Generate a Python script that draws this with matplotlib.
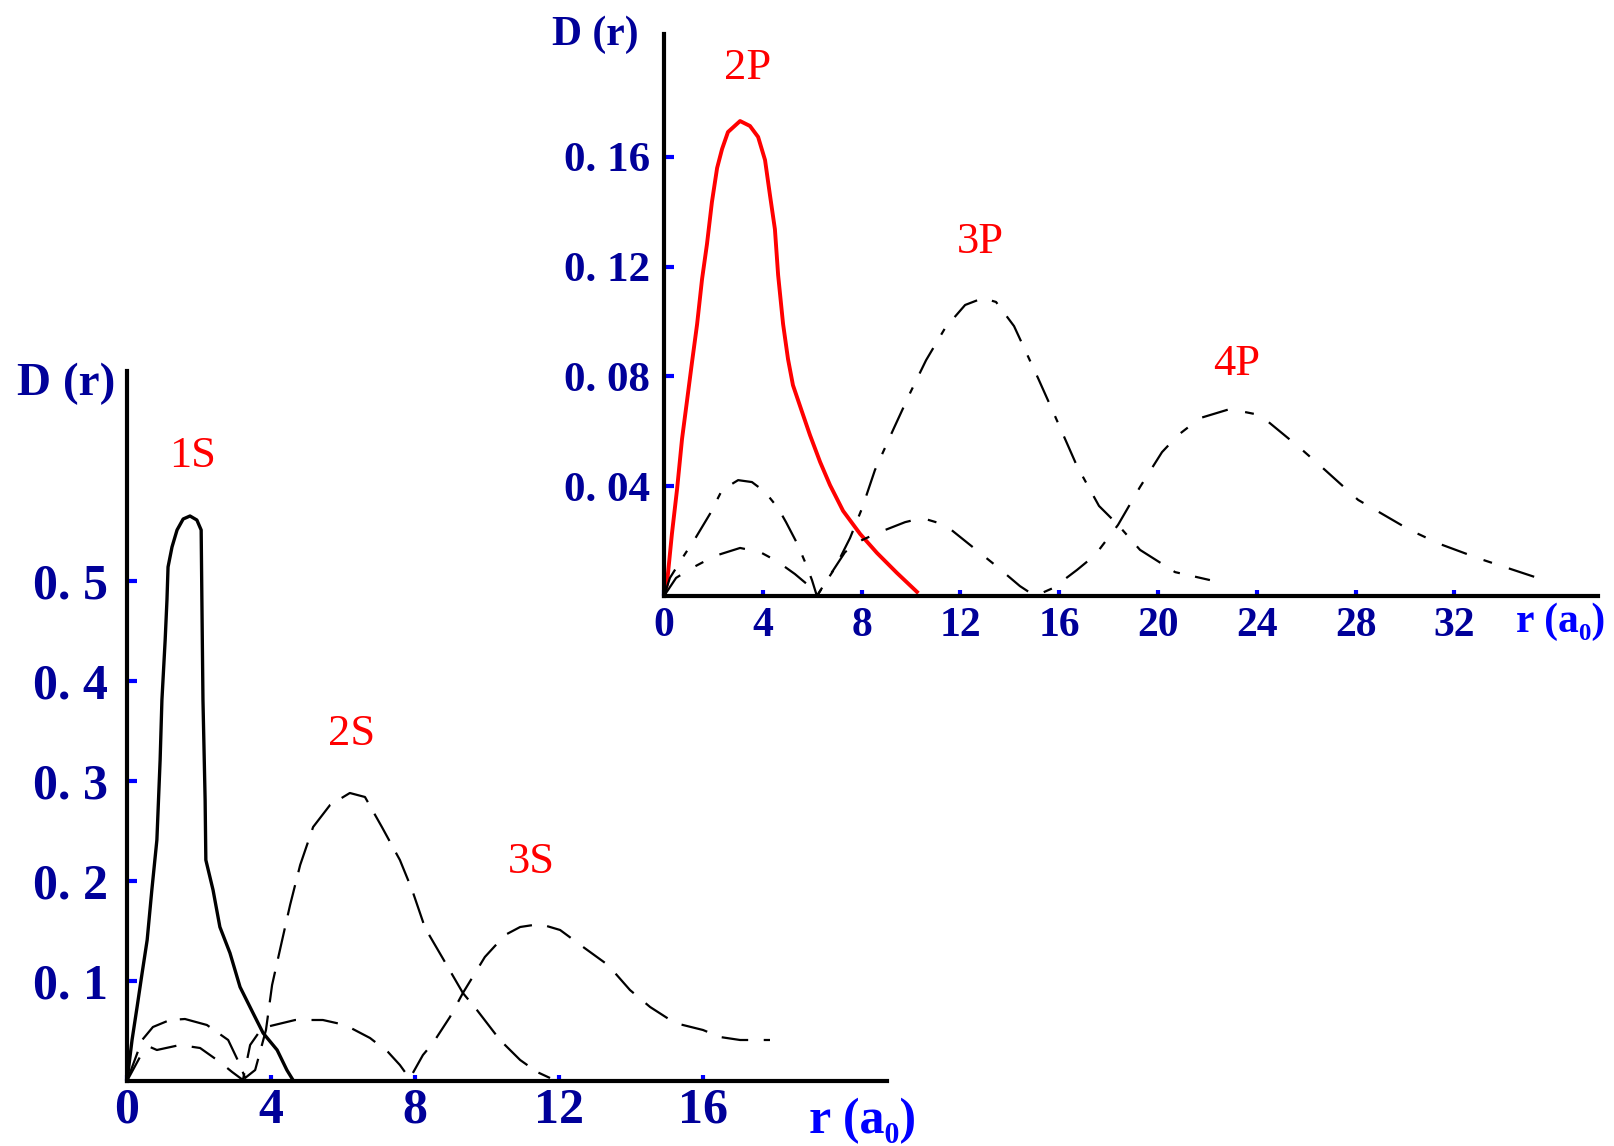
import matplotlib
matplotlib.use("Agg")
import matplotlib.pyplot as plt

# ---------------- data ----------------
# Left panel: s orbitals, r in a0, D(r)
r_1s = [0, 0.14, 0.28, 0.42, 0.56, 0.69, 0.83, 0.92, 0.97, 1.06, 1.11, 1.14, 1.25, 1.39,
        1.56, 1.75, 1.94, 2.06, 2.08, 2.11, 2.17, 2.19, 2.39, 2.58, 2.86, 3.14, 3.50, 3.78,
        4.17, 4.44, 4.61]
d_1s = [0, 0.041, 0.074, 0.108, 0.141, 0.191, 0.241, 0.321, 0.381, 0.441, 0.481, 0.514,
        0.534, 0.551, 0.562, 0.565, 0.561, 0.551, 0.481, 0.381, 0.281, 0.221, 0.191, 0.154,
        0.128, 0.094, 0.068, 0.048, 0.031, 0.011, 0.001]

r_2s = [0, 0.42, 0.72, 1.19, 1.61, 2.22, 2.81, 3.14, 3.28, 3.56, 3.86, 4.03, 4.31, 4.53,
        4.81, 5.17, 5.64, 6.19, 6.61, 7.08, 7.58, 7.92, 8.28, 8.75, 9.33, 9.72, 10.36,
        10.92, 11.39, 11.75]
d_2s = [0, 0.041, 0.054, 0.061, 0.062, 0.056, 0.041, 0.016, 0.003, 0.011, 0.051, 0.096,
        0.141, 0.176, 0.216, 0.254, 0.276, 0.288, 0.284, 0.254, 0.221, 0.191, 0.153, 0.124,
        0.088, 0.071, 0.041, 0.021, 0.009, 0.003]

r_3s = [0, 0.36, 0.64, 0.83, 1.47, 2.03, 2.58, 2.92, 3.22, 3.42, 3.75, 4.67, 5.44, 6.06,
        6.75, 7.25, 7.58, 7.86, 7.94, 8.22, 8.50, 8.97, 9.33, 9.94, 10.5, 10.92, 11.47,
        12.03, 12.67, 13.36, 13.97, 14.53, 15.22, 16.0, 16.47, 17.03, 17.86]
d_3s = [0, 0.024, 0.034, 0.031, 0.036, 0.033, 0.019, 0.009, 0.001, 0.036, 0.053, 0.061,
        0.061, 0.056, 0.043, 0.029, 0.016, 0.002, 0.008, 0.026, 0.038, 0.064, 0.088, 0.124,
        0.146, 0.154, 0.157, 0.151, 0.134, 0.116, 0.091, 0.074, 0.058, 0.051, 0.044, 0.041,
        0.041]

# Right panel: p orbitals
r_2p = [0, 0.12, 0.32, 0.53, 0.73, 0.93, 1.13, 1.34, 1.54, 1.74, 1.94, 2.15, 2.35, 2.59,
        3.08, 3.48, 3.81, 4.09, 4.29, 4.49, 4.62, 4.82, 5.02, 5.22, 5.59, 5.91, 6.32, 6.72,
        7.25, 7.94, 8.62, 9.43, 10.24]
d_2p = [0, 0.0044, 0.0226, 0.039, 0.0572, 0.071, 0.0849, 0.099, 0.1154, 0.1282, 0.1435,
        0.1559, 0.1628, 0.169, 0.173, 0.1712, 0.1672, 0.1588, 0.146, 0.1336, 0.1169,
        0.0991, 0.0863, 0.0768, 0.067, 0.0586, 0.0488, 0.0404, 0.031, 0.0226, 0.0157,
        0.0084, 0.0015]

r_3p = [0, 0.24, 0.77, 1.30, 1.86, 2.35, 3.0, 3.56, 4.09, 4.62, 4.94, 5.38, 5.71, 5.99,
        6.19, 6.92, 7.53, 8.02, 8.54, 9.31, 9.96, 10.61, 11.38, 12.19, 12.91, 13.44, 14.17,
        15.14, 15.83, 16.72, 17.61, 18.38, 19.27, 20.69, 22.1]
d_3p = [0, 0.0066, 0.0142, 0.0215, 0.0299, 0.0386, 0.0422, 0.0415, 0.0379, 0.032, 0.0269,
        0.0193, 0.0124, 0.0058, 0, 0.0102, 0.0211, 0.032, 0.0459, 0.0612, 0.0739, 0.0859,
        0.0976, 0.106, 0.1085, 0.1071, 0.0983, 0.0794, 0.0655, 0.0473, 0.0328, 0.0259,
        0.0168, 0.0087, 0.0058]

r_4p = [0, 0.49, 1.13, 2.06, 3.08, 3.89, 4.57, 5.30, 5.83, 6.19, 6.72, 7.33, 8.02, 8.74,
        9.76, 10.45, 11.38, 12.39, 13.40, 14.41, 15.02, 15.75, 16.72, 17.45, 18.38, 19.27,
        20.16, 20.81, 21.7, 22.91, 24.13, 25.75, 26.76, 28.1, 30.2, 31.42, 33.04, 35.26]
d_4p = [0, 0.0066, 0.0102, 0.0146, 0.0175, 0.016, 0.0127, 0.008, 0.004, 0, 0.0076, 0.016,
        0.0204, 0.0233, 0.0269, 0.0284, 0.0259, 0.0186, 0.0113, 0.0036, 0, 0.0029, 0.0095,
        0.0149, 0.0259, 0.0397, 0.0524, 0.0586, 0.0648, 0.0681, 0.0659, 0.0539, 0.0459,
        0.035, 0.024, 0.0189, 0.0135, 0.0069]

left_xticks = [0, 4, 8, 12, 16]
left_xlabels = ["0", "4", "8", "12", "16"]
left_yticks = [0.1, 0.2, 0.3, 0.4, 0.5]
left_ylabels = ["0. 1", "0. 2", "0. 3", "0. 4", "0. 5"]
right_xticks = [0, 4, 8, 12, 16, 20, 24, 28, 32]
right_xlabels = ["0", "4", "8", "12", "16", "20", "24", "28", "32"]
right_yticks = [0.04, 0.08, 0.12, 0.16]
right_ylabels = ["0. 04", "0. 08", "0. 12", "0. 16"]

# ---------------- figure ----------------
W, H = 1614, 1146
fig = plt.figure(figsize=(W / 100, H / 100), dpi=100)
fig.patch.set_facecolor("white")

SERIF = ["Liberation Serif", "DejaVu Serif"]
NAVY = "#000099"
BLUE = "#0000ff"
RED = "#ff0000"


def px_axes(l, t, r, b):
    return fig.add_axes([l / W, 1 - b / H, (r - l) / W, (b - t) / H])


def style(ax, xlim, ylim, xt, xl, yt, yl, fs_x, fs_y, padx, pady):
    ax.set_xlim(*xlim)
    ax.set_ylim(*ylim)
    for s in ("top", "right"):
        ax.spines[s].set_visible(False)
    for s in ("left", "bottom"):
        ax.spines[s].set_linewidth(3)
        ax.spines[s].set_color("black")
    ax.set_facecolor("none")
    ax.set_xticks(xt)
    ax.set_xticklabels(xl, fontsize=fs_x, fontweight="bold", family=SERIF, color=NAVY)
    ax.set_yticks(yt)
    ax.set_yticklabels(yl, fontsize=fs_y, fontweight="bold", family=SERIF, color=NAVY)
    ax.tick_params(axis="x", direction="in", length=4, width=3, color=BLUE, pad=padx)
    ax.tick_params(axis="y", direction="in", length=7, width=3, color=BLUE, pad=pady)


# Left panel
axL = px_axes(127, 371, 887, 1081)
style(axL, (0, 21.11), (0, 0.71), left_xticks, left_xlabels, left_yticks, left_ylabels,
      36, 36, 5, 14)
axL.plot(r_1s, d_1s, color="black", lw=2.4, solid_joinstyle="round")
axL.plot(r_2s, d_2s, color="black", lw=1.6, linestyle=(0, (14, 6)))
axL.plot(r_3s, d_3s, color="black", lw=1.6, linestyle=(0, (12, 7)))
axL.text(1.81, 0.625, "1S", color=RED, fontsize=32, family=SERIF, ha="center", va="center")
axL.text(6.25, 0.347, "2S", color=RED, fontsize=32, family=SERIF, ha="center", va="center")
axL.text(11.22, 0.219, "3S", color=RED, fontsize=32, family=SERIF, ha="center", va="center")

# Right panel
axR = px_axes(664, 34, 1598, 596)
style(axR, (0, 37.81), (0, 0.2047), right_xticks, right_xlabels, right_yticks,
      right_ylabels, 30, 31, 8, 10)
axR.plot(r_2p, d_2p, color=RED, lw=2.8)
axR.plot(r_3p, d_3p, color="black", lw=1.6, linestyle=(0, (13, 7, 3, 7)))
axR.plot(r_4p, d_4p, color="black", lw=1.6, linestyle=(0, (12, 8, 4, 8)))
axR.text(3.40, 0.1923, "2P", color=RED, fontsize=32, family=SERIF, ha="center", va="center")
axR.text(12.79, 0.1289, "3P", color=RED, fontsize=32, family=SERIF, ha="center", va="center")
axR.text(23.2, 0.0845, "4P", color=RED, fontsize=32, family=SERIF, ha="center", va="center")

# Axis titles
def ftext(x, y, s, **kw):
    fig.text(x / W, 1 - y / H, s, ha="center", va="center", family=SERIF, **kw)

ftext(66, 384, "D (r)", fontsize=34, fontweight="bold", color=NAVY)
ftext(595, 35, "D (r)", fontsize=30, fontweight="bold", color=NAVY)
ftext(863, 1121, "r (a\u2080)", fontsize=36, fontweight="bold", color=BLUE)
ftext(1561, 622, "r (a\u2080)", fontsize=30, fontweight="bold", color=BLUE)

fig.savefig("out.png", dpi=100, facecolor="white")
